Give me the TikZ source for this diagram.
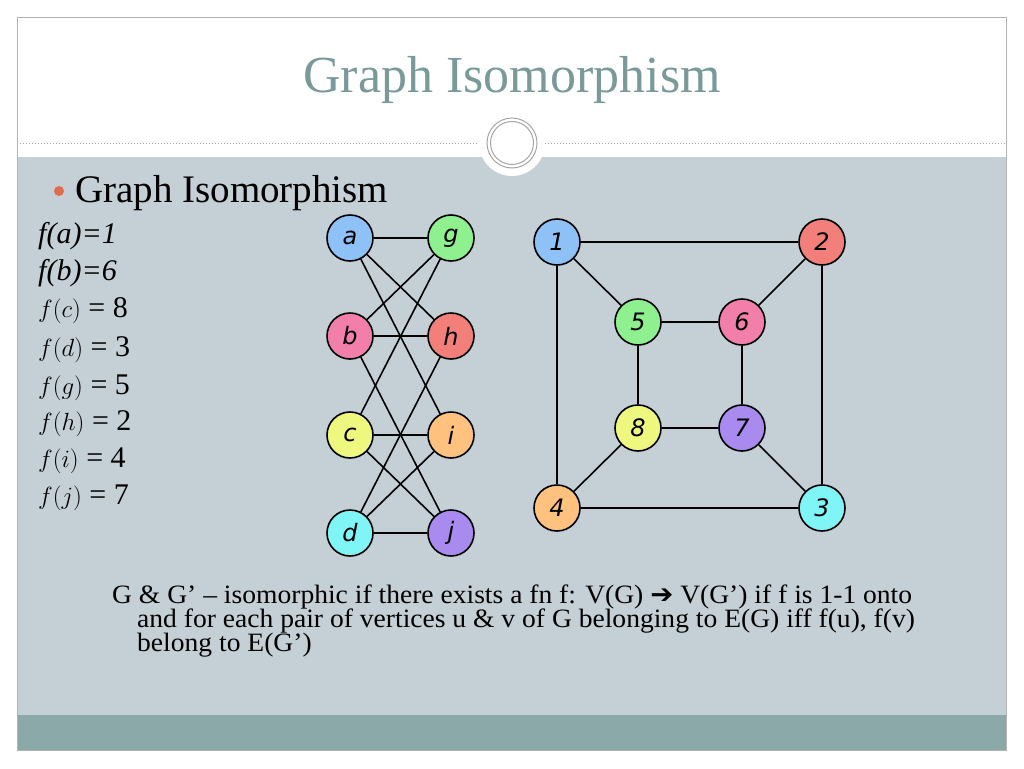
\documentclass[tikz,border=0pt]{standalone}
\usepackage{fontspec}
\setmainfont{Liberation Serif}
\newfontfamily\dvs{DejaVu Sans}
\begin{document}
\begin{tikzpicture}[x=1pt,y=-1pt,
  vtx/.style={circle,draw=black,line width=1.6pt,minimum size=46pt,inner sep=0pt,font=\dvs\itshape\fontsize{24}{24}\selectfont},
  edge/.style={line width=1.6pt},
  para/.style={anchor=base west,font=\fontsize{26.5}{26.5}\selectfont,inner sep=0pt,xscale=1.04}]
\useasboundingbox (0,0) rectangle (1024,768);
\fill[white] (0,0) rectangle (1024,768);
\fill[white] (17,17) rectangle (1006,157);
\fill[fill={rgb,255:red,197;green,207;blue,214}] (17,157) rectangle (1006,715);
\fill[fill={rgb,255:red,139;green,169;blue,169}] (17,715) rectangle (1006,750);
\draw[gray!60,line width=0.6pt] (17,17) rectangle (1006,750);
\draw[gray!70,dotted,line width=1pt] (17,143) -- (1006,143);
\fill[white] (512,143) circle (33);
\draw[gray!70,line width=1pt] (512,143) circle (25);
\draw[gray!70,line width=1pt] (512,143) circle (21.5);
\node[text={rgb,255:red,122;green,154;blue,154},font=\fontsize{52}{52}\selectfont] (title) at (512,80) {Graph Isomorphism};
\fill[fill={rgb,255:red,222;green,108;blue,80}] (59,191) circle (5);
\node[anchor=base west,inner sep=0pt,font=\fontsize{39}{39}\selectfont] (bul) at (75,202) {Graph Isomorphism};
\begin{scope}[every node/.style={anchor=base west,inner sep=0pt,font=\fontsize{30}{30}\selectfont}]
\node (f1) at (38,243) {\itshape f(a)=1};
\node (f2) at (38,280) {\itshape f(b)=6};
\node (f3) at (38,317) {$f(c)$ = 8};
\node (f4) at (38,356) {$f(d)$ = 3};
\node (f5) at (38,394) {$f(g)$ = 5};
\node (f6) at (38,430) {$f(h)$ = 2};
\node (f7) at (38,467) {$f(i)$ = 4};
\node (f8) at (38,504) {$f(j)$ = 7};
\end{scope}
\node[para] (t1) at (112,603) {G \& G’ – isomorphic if there exists a fn f: V(G) {\dvs ➔} V(G’) if f is 1-1 onto};
\node[para] (t2) at (137,627) {and for each pair of vertices u \& v of G belonging to E(G) iff f(u), f(v)};
\node[para] (t3) at (137,651) {belong to E(G’)};
% left graph
\node[vtx,fill={rgb,255:red,142;green,193;blue,245}] (a) at (350,238) {a};
\node[vtx,fill={rgb,255:red,142;green,240;blue,142}] (g) at (451,238) {g};
\node[vtx,fill={rgb,255:red,242;green,127;blue,170}] (b) at (350,336) {b};
\node[vtx,fill={rgb,255:red,242;green,127;blue,122}] (h) at (451,336) {h};
\node[vtx,fill={rgb,255:red,238;green,247;blue,126}] (c) at (350,435) {c};
\node[vtx,fill={rgb,255:red,255;green,194;blue,126}] (i) at (451,435) {i};
\node[vtx,fill={rgb,255:red,128;green,245;blue,245}] (d) at (350,533) {d};
\node[vtx,fill={rgb,255:red,169;green,139;blue,240}] (j) at (451,533) {j};
\foreach \u/\v in {a/g,a/h,a/i,b/g,b/h,b/j,c/g,c/i,c/j,d/h,d/i,d/j}
  \draw[edge] (\u) -- (\v);
% right graph
\node[vtx,fill={rgb,255:red,142;green,193;blue,245}] (n1) at (557,242) {1};
\node[vtx,fill={rgb,255:red,242;green,127;blue,122}] (n2) at (822,242) {2};
\node[vtx,fill={rgb,255:red,142;green,240;blue,142}] (n5) at (638,322) {5};
\node[vtx,fill={rgb,255:red,242;green,127;blue,170}] (n6) at (742,322) {6};
\node[vtx,fill={rgb,255:red,238;green,247;blue,126}] (n8) at (638,428) {8};
\node[vtx,fill={rgb,255:red,169;green,139;blue,240}] (n7) at (742,428) {7};
\node[vtx,fill={rgb,255:red,255;green,194;blue,126}] (n4) at (557,508) {4};
\node[vtx,fill={rgb,255:red,128;green,245;blue,245}] (n3) at (822,508) {3};
\foreach \u/\v in {1/2,1/5,1/4,2/6,2/3,5/6,5/8,6/7,8/7,8/4,7/3,4/3}
  \draw[edge] (n\u) -- (n\v);
\end{tikzpicture}
\end{document}
